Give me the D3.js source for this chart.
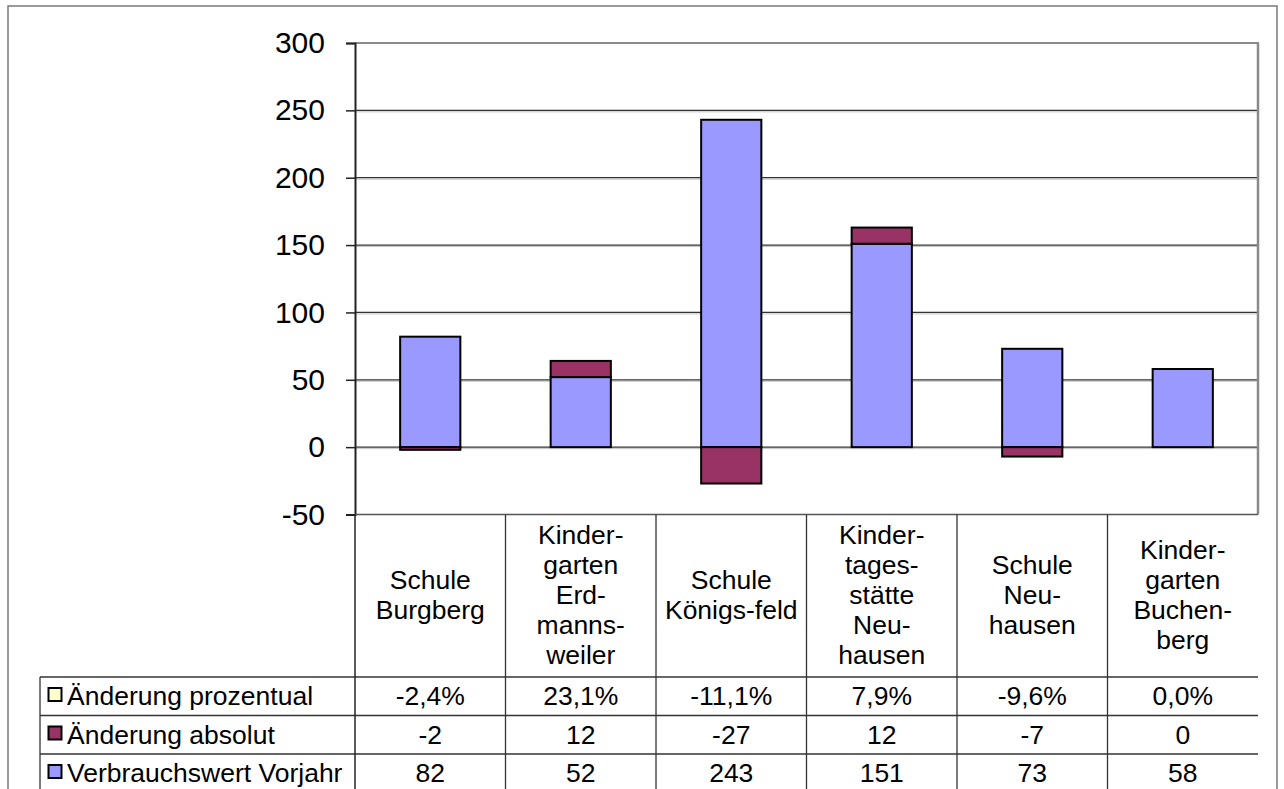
<!DOCTYPE html>
<html>
<head>
<meta charset="utf-8">
<script src="https://cdn.jsdelivr.net/npm/d3@7"></script>
<style>
  html, body { margin: 0; padding: 0; background: #fff; }
  svg { display: block; font-family: "Liberation Sans", Arial, sans-serif; }
</style>
</head>
<body>
<svg id="chart" width="1284" height="789"></svg>
<script>
// ---- data ----
const categories = [
  ["Schule", "Burgberg"],
  ["Kinder-", "garten", "Erd-", "manns-", "weiler"],
  ["Schule", "Königs-feld"],
  ["Kinder-", "tages-", "stätte", "Neu-", "hausen"],
  ["Schule", "Neu-", "hausen"],
  ["Kinder-", "garten", "Buchen-", "berg"]
];
const seriesNames = ["Änderung prozentual", "Änderung absolut", "Verbrauchswert Vorjahr"];
const seriesColors = ["#FFFFCC", "#993366", "#9999FF"];
const aenderungProzentual = [-2.4, 23.1, -11.1, 7.9, -9.6, 0.0];
const aenderungAbsolut = [-2, 12, -27, 12, -7, 0];
const verbrauchswertVorjahr = [82, 52, 243, 151, 73, 58];
const yTicks = [-50, 0, 50, 100, 150, 200, 250, 300];

// ---- layout ----
const svg = d3.select("#chart");
const plotL = 355, plotR = 1258, plotT = 43, plotB = 514.5;
const legendL = 40;
const headerB = 677;
const rowH = 38.5;

const y = d3.scaleLinear().domain([-50, 300]).range([plotB, plotT]);
const x = d3.scaleBand().domain(d3.range(categories.length)).range([plotL, plotR]).paddingInner(0).paddingOuter(0);
const bw = x.bandwidth();

// outer border
svg.append("rect").attr("x", 8).attr("y", 6).attr("width", 1269).attr("height", 800)
  .attr("fill", "none").attr("stroke", "#7a7a7a").attr("stroke-width", 1.5);

// gridlines (with light shadow)
const grid = svg.append("g");
yTicks.filter(v => v > -50 && v < 300).forEach(v => {
  grid.append("line").attr("x1", plotL).attr("x2", plotR)
    .attr("y1", y(v) + 1.5).attr("y2", y(v) + 1.5).attr("stroke", "#c4c4c4").attr("stroke-width", 1);
  grid.append("line").attr("x1", plotL).attr("x2", plotR)
    .attr("y1", y(v)).attr("y2", y(v)).attr("stroke", "#333").attr("stroke-width", 1.2);
});

// plot border top / right (grey)
svg.append("line").attr("x1", plotL).attr("x2", plotR + 1).attr("y1", plotT).attr("y2", plotT)
  .attr("stroke", "#8a8a8a").attr("stroke-width", 2);
svg.append("line").attr("x1", plotR).attr("x2", plotR).attr("y1", plotT).attr("y2", plotB)
  .attr("stroke", "#8a8a8a").attr("stroke-width", 2.5);

// bars: stacked, positives up from 0, negatives down from 0
const bars = svg.append("g");
categories.forEach((c, i) => {
  const bx = x(i) + bw * 0.3, bwid = bw * 0.4;
  const vals = [
    { v: verbrauchswertVorjahr[i], color: seriesColors[2] },
    { v: aenderungAbsolut[i], color: seriesColors[1] }
  ];
  let pos = 0, neg = 0;
  vals.forEach(d => {
    if (d.v === 0) return;
    let y0, y1;
    if (d.v >= 0) { y0 = pos; y1 = pos + d.v; pos = y1; }
    else { y0 = neg; y1 = neg + d.v; neg = y1; }
    const top = y(Math.max(y0, y1)), bot = y(Math.min(y0, y1));
    bars.append("rect").attr("x", bx).attr("y", top).attr("width", bwid).attr("height", bot - top)
      .attr("fill", d.color).attr("stroke", "#000").attr("stroke-width", 2);
  });
});

// y axis
const yAxis = d3.axisLeft(y).tickValues(yTicks).tickSize(9).tickPadding(21).tickFormat(v => String(v));
const ax = svg.append("g").attr("transform", `translate(${plotL},0)`).call(yAxis);
ax.select(".domain").attr("stroke", "#222").attr("stroke-width", 2);
ax.selectAll(".tick line").attr("stroke", "#222").attr("stroke-width", 1.5);
ax.selectAll(".tick text").attr("font-size", 30).attr("fill", "#000")
  .attr("font-family", "'Liberation Sans', Arial, sans-serif");

// ---- data table ----
const tbl = svg.append("g");
const lineColor = "#333";
tbl.append("line").attr("x1", plotL).attr("x2", plotR).attr("y1", plotB).attr("y2", plotB)
  .attr("stroke", "#555").attr("stroke-width", 1.5);
[headerB, headerB + rowH, headerB + 2 * rowH].forEach(yy => {
  tbl.append("line").attr("x1", legendL).attr("x2", plotR).attr("y1", yy).attr("y2", yy)
    .attr("stroke", lineColor).attr("stroke-width", 1.3);
});
d3.range(1, categories.length).forEach(i => {
  tbl.append("line").attr("x1", x(i)).attr("x2", x(i)).attr("y1", plotB).attr("y2", 800)
    .attr("stroke", lineColor).attr("stroke-width", 1.3);
});
tbl.append("line").attr("x1", plotL).attr("x2", plotL).attr("y1", plotB).attr("y2", 800)
  .attr("stroke", "#222").attr("stroke-width", 1.5);
tbl.append("line").attr("x1", legendL).attr("x2", legendL).attr("y1", headerB).attr("y2", 800)
  .attr("stroke", lineColor).attr("stroke-width", 1.3);

// header labels
const headerMid = (plotB + headerB) / 2;
categories.forEach((lines, i) => {
  const t = tbl.append("text").attr("text-anchor", "middle").attr("font-size", 26.5).attr("fill", "#000");
  const first = headerMid - (lines.length - 1) * 15 + 8;
  lines.forEach((ln, k) => {
    t.append("tspan").attr("x", x(i) + bw / 2).attr("y", first + k * 30).text(ln);
  });
});

// rows
const fmtPct = v => v.toFixed(1).replace(".", ",") + "%";
const rows = [
  { name: seriesNames[0], color: seriesColors[0], vals: aenderungProzentual.map(fmtPct) },
  { name: seriesNames[1], color: seriesColors[1], vals: aenderungAbsolut.map(v => String(v)) },
  { name: seriesNames[2], color: seriesColors[2], vals: verbrauchswertVorjahr.map(v => String(v)) }
];
rows.forEach((r, k) => {
  const top = headerB + k * rowH;
  const base = top + 28;
  tbl.append("rect").attr("x", 48.5).attr("y", top + 11).attr("width", 13).attr("height", 13)
    .attr("fill", r.color).attr("stroke", "#000").attr("stroke-width", 2);
  tbl.append("text").attr("x", 67).attr("y", base).attr("font-size", 26.5).attr("fill", "#000").text(r.name);
  r.vals.forEach((v, i) => {
    tbl.append("text").attr("x", x(i) + bw / 2).attr("y", base).attr("text-anchor", "middle")
      .attr("font-size", 26.5).attr("fill", "#000").text(v);
  });
});
</script>
</body>
</html>
